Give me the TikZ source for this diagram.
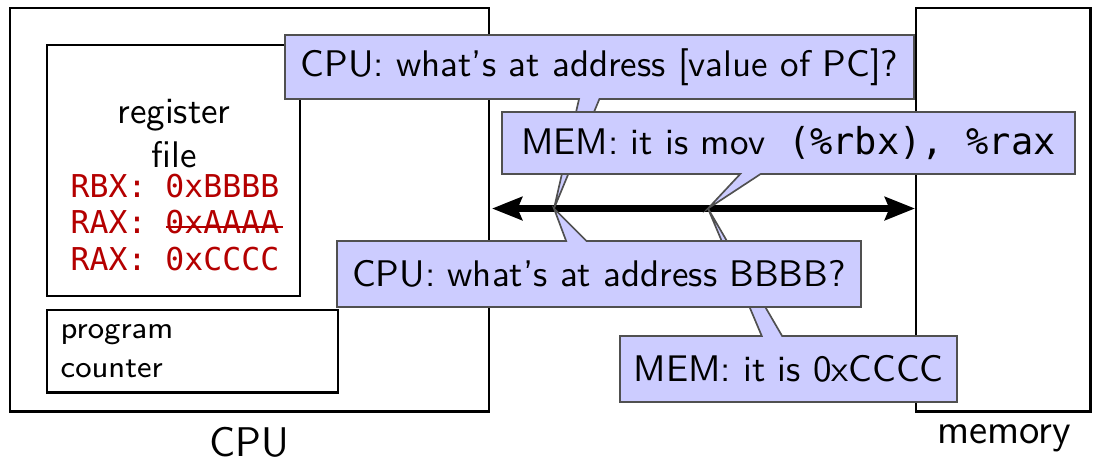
\documentclass[tikz,border=0pt]{standalone}
\usepackage{fontspec}
\setmonofont{DejaVu Sans Mono}
\usetikzlibrary{shapes.callouts,arrows.meta}
\definecolor{regred}{RGB}{180,0,0}
\definecolor{callfill}{RGB}{204,204,255}
\definecolor{callline}{RGB}{80,80,80}
\def\px{0.27pt}
\tikzset{
  unitbox/.style={draw=black, line width=0.8pt, rectangle, inner sep=0pt},
  bigtext/.style={font=\sffamily\fontsize{11.2}{13}\selectfont, inner sep=0pt},
  midtext/.style={font=\sffamily\fontsize{10}{12}\selectfont, inner sep=0pt},
  smalltext/.style={font=\sffamily\fontsize{8.3}{10}\selectfont, inner sep=0pt},
  regtext/.style={font=\ttfamily\fontsize{8.5}{10}\selectfont, text=regred, inner sep=0pt},
  bus/.style={line width=1.75pt, {Stealth[length=8.1pt,width=6.2pt,inset=1.2pt]}-{Stealth[length=8.1pt,width=6.2pt,inset=1.2pt]}},
  callbox/.style={rectangle callout, fill=callfill, draw=callline, line width=0.45pt,
    inner sep=0pt, text=black, font=\sffamily\fontsize{10}{12}\selectfont,
    callout pointer width=5.5pt},
}
\begin{document}
\begin{tikzpicture}[x=0.27pt,y=-0.27pt]
\useasboundingbox (0,0) rectangle (1093,461);
% boxes
\node[unitbox, minimum width=479*\px, minimum height=403*\px] (cpu) at (249.5,209.5) {};
\node[unitbox, minimum width=174*\px, minimum height=403*\px] (mem) at (1003,209.5) {};
\node[unitbox, minimum width=253*\px, minimum height=251*\px] (regfile) at (173.5,170.5) {};
\node[unitbox, minimum width=291*\px, minimum height=82*\px] (pc) at (192.5,351) {};
% register file text
\node[midtext, anchor=base] (reg1) at (174,123) {register};
\node[midtext, anchor=base] (reg2) at (174,167) {file};
\node[regtext, anchor=base west] (rbx) at (70,197) {RBX: 0xBBBB};
\node[regtext, anchor=base west] (raxa) at (70,233) {RAX: 0xAAAA};
\node[regtext, anchor=base west] (raxc) at (70,270) {RAX: 0xCCCC};
\draw[regred, line width=0.4pt] (166,227) -- (283,227);
% program counter
\node[smalltext, anchor=base west] (pc1) at (60,338) {program};
\node[smalltext, anchor=base west] (pc2) at (60,377) {counter};
% labels
\node[bigtext, anchor=base] (cpulabel) at (249,456) {CPU};
\node[bigtext, anchor=base] (memlabel) at (1004,443) {memory};
% bus
\coordinate (busL) at (492,208.5);
\coordinate (busR) at (915,208.5);
\coordinate (tipA) at (554,208.5);
\coordinate (tipB) at (708,208.5);
\draw[bus] (busL) -- (busR);
% callouts
\node[callbox, minimum width=629*\px, minimum height=64*\px, callout absolute pointer={(tipA)}] (q1) at (599.5,67) {CPU: what's at address [value of PC]?};
\node[callbox, minimum width=573*\px, minimum height=62*\px, callout absolute pointer={(tipB)}] (a1) at (788.5,143) {MEM: it is mov\texttt{ (\%rbx), \%rax}};
\node[callbox, minimum width=337*\px, minimum height=66*\px, callout absolute pointer={(tipB)}] (a2) at (788.5,369) {MEM: it is 0xCCCC};
\node[callbox, minimum width=524*\px, minimum height=66*\px, callout absolute pointer={(tipA)}] (q2) at (599,274) {CPU: what's at address BBBB?};
\end{tikzpicture}
\end{document}
